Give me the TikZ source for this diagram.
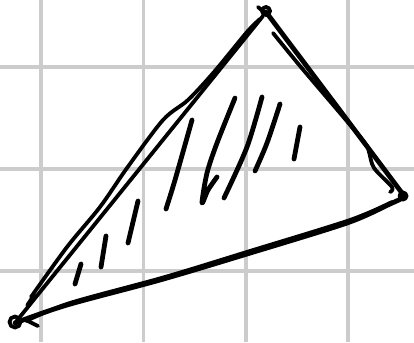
\documentclass[tikz,border=0pt]{standalone}
\usetikzlibrary{calc}
\definecolor{gridc}{HTML}{CCCCCC}
\tikzset{
  pen/.style={line width=4.8pt, line cap=round, line join=round},
  thinpen/.style={line width=3.8pt, line cap=round, line join=round},
  grd/.style={gridc, line width=3.2pt},
}

\begin{document}
\begin{tikzpicture}[x=1pt,y=-1pt]
  \useasboundingbox (0,0) rectangle (414,342);
  % background grid
  \foreach \xx in {41,143.5,246,348} \draw[grd] (\xx,0) -- (\xx,342);
  \foreach \yy in {67,169,271} \draw[grd] (0,\yy) -- (414,\yy);
  % corners of the sketched triangle
  \coordinate (top) at (266,12);
  \coordinate (rt) at (405,197);
  \coordinate (bl) at (15,323);
  % left side, drawn twice
  \draw[thinpen] (bl) -- (263,16);
  \draw[thinpen] plot[smooth] coordinates {(31,297) (67,247) (100,207) (127,168) (163,120) (188,100) (214,72) (247,32) (260,19)};
  \draw[pen] (28,305) -- (34,296);
  % right side, drawn twice
  \draw[pen] (top) -- (rt);
  \draw[thinpen] plot[smooth] coordinates {(273,33) (300,66) (340,113) (365,143) (369,152) (374,168) (392,187) (390,192)};
  % bottom side, drawn twice
  \draw[pen] plot[smooth] coordinates {(bl) (67,305) (160,280) (247,254) (347,223) (390,204) (rt)};
  \draw[thinpen] plot[smooth] coordinates {(26,321) (70,303) (165,277) (250,251) (350,220) (392,202)};
  \draw[thinpen] (26,320) -- (38,326);
  % little loops at the corners
  \draw[thinpen] (266,11) circle (4);
  \draw[thinpen] (258,7) -- (265,13);
  \draw[thinpen] (403,196) circle (3.5);
  \draw[thinpen] (15,322) circle (5.5);
  % hatching
  \foreach \a/\b/\c/\d in {81/264/75/284, 106/236/101/267, 138/201/128/243, 300/127/294/159}
    \draw[pen] (\a,\b) -- (\c,\d);
  \draw[pen] plot[smooth] coordinates {(192,120) (175,180) (166,209)};
  \draw[pen] plot[smooth] coordinates {(235,98) (217,143) (207,173) (202,203) (208,190) (217,177)};
  \draw[pen] plot[smooth] coordinates {(262,97) (247,147) (224,198)};
  \draw[pen] plot[smooth] coordinates {(280,104) (267,143) (255,171)};
\end{tikzpicture}
\end{document}
